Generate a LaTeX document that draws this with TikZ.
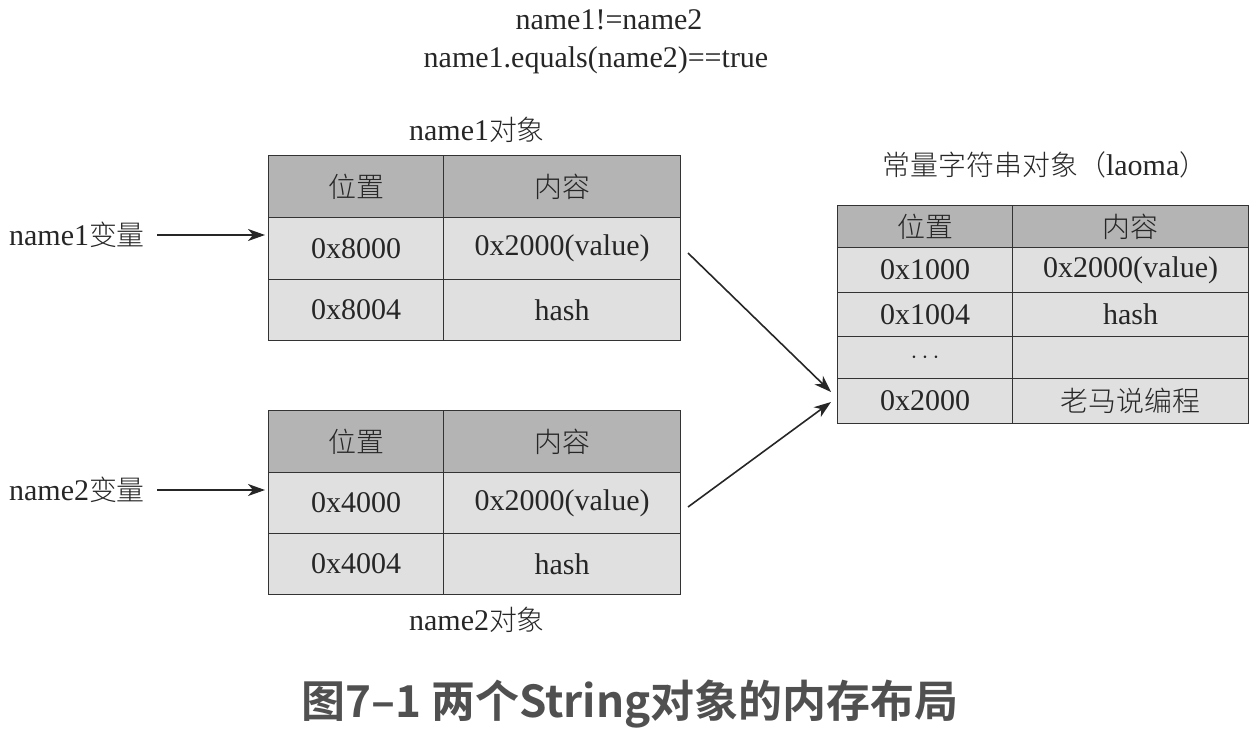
\documentclass[tikz,border=0pt]{standalone}
\usepackage{fontspec}
\setmainfont{Liberation Serif}
\newfontfamily\cjk{Noto Sans CJK SC}[UprightFont={* Light},Scale=0.93]
\newfontfamily\titlefont{Noto Sans CJK SC}[UprightFont={* Bold}]
\usetikzlibrary{arrows.meta}
\definecolor{hdfill}{HTML}{B4B4B4}
\definecolor{bdfill}{HTML}{E0E0E0}
\definecolor{linec}{HTML}{333333}
\definecolor{titlec}{HTML}{505050}
\newcommand\zh[1]{{\cjk #1}}
\tikzset{
  cellbase/.style={draw=linec, line width=1.3pt, inner sep=0pt, anchor=north west,
    font=\fontsize{30}{33}\selectfont, text=black!85},
  hd/.style={cellbase, fill=hdfill},
  bd/.style={cellbase, fill=bdfill},
  lbl/.style={font=\fontsize{30}{33}\selectfont, text=black!85, inner sep=0pt},
  arr/.style={draw=black!85, line width=1.6pt, -{Stealth[length=17pt,width=12pt,inset=5pt]}},
}
\begin{document}
\begin{tikzpicture}[x=1pt,y=-1pt]
\useasboundingbox (0,0) rectangle (1258,730);
% top texts
\node[lbl] (eq1) at (609,20) {name1!=name2};
\node[lbl] (eq2) at (596,60) {name1.equals(name2)==true};
% table 1
\node[lbl] (t1lab) at (477,130) {name1\zh{对象}};
\node[hd, minimum width=175, minimum height=62] (a11) at (268,155) {\zh{位置}};
\node[hd, minimum width=237, minimum height=62] (a12) at (443,155) {\zh{内容}};
\node[bd, minimum width=175, minimum height=62] (a21) at (268,217) {0x8000};
\node[bd, minimum width=237, minimum height=62] (a22) at (443,217) {0x2000(value)};
\node[bd, minimum width=175, minimum height=61] (a31) at (268,279) {0x8004};
\node[bd, minimum width=237, minimum height=61] (a32) at (443,279) {hash};
% table 2
\node[hd, minimum width=175, minimum height=62] (b11) at (268,410) {\zh{位置}};
\node[hd, minimum width=237, minimum height=62] (b12) at (443,410) {\zh{内容}};
\node[bd, minimum width=175, minimum height=61] (b21) at (268,472) {0x4000};
\node[bd, minimum width=237, minimum height=61] (b22) at (443,472) {0x2000(value)};
\node[bd, minimum width=175, minimum height=61] (b31) at (268,533) {0x4004};
\node[bd, minimum width=237, minimum height=61] (b32) at (443,533) {hash};
\node[lbl] (t2lab) at (477,620) {name2\zh{对象}};
% table 3
\node[lbl] (t3lab) at (1045,165) {\zh{常量字符串对象（}laoma\zh{）}};
\node[hd, minimum width=175, minimum height=42] (c11) at (837,205) {\zh{位置}};
\node[hd, minimum width=236, minimum height=42] (c12) at (1012,205) {\zh{内容}};
\node[bd, minimum width=175, minimum height=45] (c21) at (837,247) {0x1000};
\node[bd, minimum width=236, minimum height=45] (c22) at (1012,247) {0x2000(value)};
\node[bd, minimum width=175, minimum height=44] (c31) at (837,292) {0x1004};
\node[bd, minimum width=236, minimum height=44] (c32) at (1012,292) {hash};
\node[bd, minimum width=175, minimum height=42] (c41) at (837,336) {$\cdots$};
\node[bd, minimum width=236, minimum height=42] (c42) at (1012,336) {};
\node[bd, minimum width=175, minimum height=45] (c51) at (837,378) {0x2000};
\node[bd, minimum width=236, minimum height=45] (c52) at (1012,378) {\zh{老马说编程}};
% variables
\node[lbl] (v1) at (77,235) {name1\zh{变量}};
\node[lbl] (v2) at (77,490) {name2\zh{变量}};
\coordinate (e1) at (265,235);
\coordinate (e2) at (265,490);
\draw[arr, shorten <=12pt] (v1.east) -- (e1);
\draw[arr, shorten <=12pt] (v2.east) -- (e2);
% diagonal pointers
\coordinate (s1) at (688,253);
\coordinate (s2) at (688,507);
\coordinate (d1) at (831,392);
\coordinate (d2) at (831,402);
\draw[arr] (s1) -- (d1);
\draw[arr] (s2) -- (d2);
% caption
\node[font=\titlefont\fontsize{44}{48}\selectfont, text=titlec, inner sep=0pt] (cap) at (630,704) {图7–1 两个String对象的内存布局};
\end{tikzpicture}
\end{document}
